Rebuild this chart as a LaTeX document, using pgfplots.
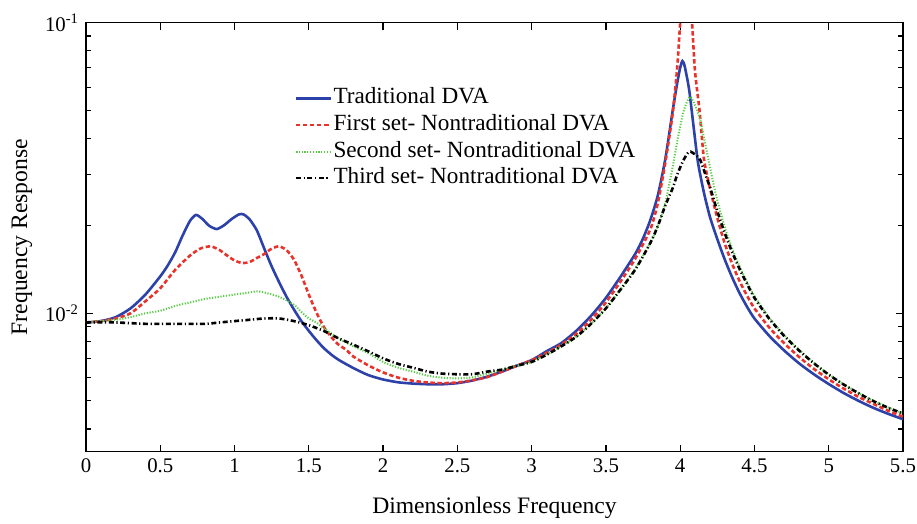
\documentclass[border=0pt]{standalone}
\usepackage{pgfplots}
\pgfplotsset{compat=1.18}
\usepackage{fontspec}
\setmainfont{Liberation Serif}
\definecolor{cblue}{RGB}{44,66,170}
\definecolor{cred}{RGB}{232,50,42}
\definecolor{cgreen}{RGB}{90,205,70}
\begin{document}
\begin{tikzpicture}
\useasboundingbox (-43pt,-36.15pt) rectangle (415.5pt,225.85pt);
\begin{axis}[
  at={(0,0)}, anchor=south west,
  scale only axis, width=408.5pt, height=214.5pt,
  ymode=log,
  xmin=0, xmax=5.5, ymin=0.00334, ymax=0.1,
  xtick={0,0.5,...,5.5},
  xticklabels={0,0.5,1,1.5,2,2.5,3,3.5,4,4.5,5,5.5},
  ytick={0.01,0.1},
  yticklabels={10\textsuperscript{-2},10\textsuperscript{-1}},
  minor ytick={0.004,0.005,0.006,0.007,0.008,0.009,0.02,0.03,0.04,0.05,0.06,0.07,0.08,0.09},
  tick align=inside,
  tick pos=both,
  major tick length=3.5pt, minor tick length=2.5pt,
  every tick/.style={black, line width=0.6pt},
  axis line style={line width=0.7pt},
  ticklabel style={font=\fontsize{10.4}{12}\selectfont},
  /pgf/number format/assume math mode=true,
  xlabel={Dimensionless Frequency},
  ylabel={Frequency Response},
  label style={font=\fontsize{11.8}{14}\selectfont},
  xlabel style={at={(axis description cs:0.5,-0.1315)}, anchor=center},
  ylabel style={at={(axis description cs:-0.0783,0.5)}, anchor=center},
  legend cell align=left,
  legend style={draw=none, fill=none, font=\fontsize{11.6}{13}\selectfont,
    at={(axis description cs:0.2477,0.863)}, anchor=north west,
    nodes={inner sep=1pt, text height=8pt, text depth=2.5pt}, row sep=0.8pt},
  clip=true,
]
\addplot[cblue, line width=1.3pt, smooth, tension=0.4] table {
0.0 0.0093
0.1 0.0094
0.2 0.0097
0.3 0.0104
0.4 0.0116
0.5 0.0134
0.55 0.0146
0.6 0.0162
0.65 0.0185
0.7 0.0208
0.74 0.0218
0.78 0.0212
0.83 0.0200
0.88 0.0195
0.93 0.0201
0.98 0.0211
1.03 0.0219
1.06 0.0219
1.1 0.0211
1.15 0.0193
1.2 0.0167
1.25 0.0145
1.3 0.0128
1.35 0.0114
1.4 0.0103
1.45 0.0094
1.5 0.0087
1.55 0.0081
1.6 0.0076
1.65 0.00722
1.7 0.00692
1.8 0.00648
1.9 0.00613
2.0 0.00592
2.1 0.00579
2.2 0.00573
2.3 0.00570
2.4 0.00570
2.5 0.00575
2.6 0.00587
2.7 0.00605
2.8 0.0063
2.9 0.0066
3.0 0.0069
3.1 0.0074
3.2 0.0079
3.3 0.0087
3.4 0.0098
3.5 0.0113
3.6 0.0134
3.7 0.0161
3.75 0.0181
3.8 0.0210
3.85 0.0255
3.9 0.034
3.95 0.050
3.98 0.062
4.0 0.070
4.015 0.0738
4.03 0.071
4.06 0.059
4.09 0.044
4.12 0.033
4.16 0.026
4.2 0.0215
4.25 0.0180
4.3 0.01532
4.35 0.01329
4.4 0.01173
4.45 0.01053
4.5 0.00960
4.6 0.00836
4.7 0.00745
4.8 0.00673
4.9 0.00617
5.0 0.00571
5.1 0.00532
5.2 0.00500
5.3 0.00473
5.4 0.00451
5.5 0.00432
};
\addlegendentry{Traditional DVA}
\addplot[cred, line width=1.3pt, dash pattern=on 2.2pt off 1.3pt, smooth, tension=0.4] table {
0.0 0.0093
0.1 0.0094
0.2 0.0096
0.3 0.0100
0.4 0.0110
0.5 0.0122
0.6 0.0141
0.7 0.0158
0.77 0.0167
0.84 0.0170
0.9 0.0165
0.95 0.0158
1.0 0.0152
1.05 0.0149
1.1 0.0150
1.15 0.0155
1.2 0.0160
1.25 0.0167
1.3 0.0170
1.35 0.0165
1.4 0.0153
1.45 0.0135
1.5 0.0116
1.55 0.0101
1.6 0.0090
1.65 0.0083
1.7 0.0078
1.75 0.0075
1.8 0.0071
1.9 0.00662
2.0 0.00626
2.1 0.00601
2.2 0.00586
2.3 0.00578
2.4 0.00575
2.5 0.00578
2.6 0.00588
2.7 0.00603
2.8 0.0063
2.9 0.0066
3.0 0.0069
3.1 0.0073
3.2 0.0078
3.3 0.0085
3.4 0.0095
3.5 0.0109
3.6 0.0129
3.7 0.0155
3.8 0.0195
3.85 0.024
3.9 0.033
3.95 0.049
3.98 0.070
4.0 0.10
4.02 0.14
4.04 0.16
4.06 0.14
4.08 0.10
4.1 0.068
4.13 0.050
4.16 0.034
4.2 0.027
4.25 0.0213
4.3 0.0174
4.35 0.0148
4.4 0.0129
4.45 0.0115
4.5 0.0104
4.6 0.00893
4.7 0.00789
4.8 0.00708
4.9 0.00644
5.0 0.00593
5.1 0.00551
5.2 0.00516
5.3 0.00488
5.4 0.00462
5.5 0.00441
};
\addlegendentry{First set- Nontraditional DVA}
\addplot[cgreen, line width=1pt, dash pattern=on 0.6pt off 0.8pt, smooth, tension=0.4] table {
0.0 0.0093
0.1 0.0094
0.2 0.0095
0.3 0.0097
0.4 0.0100
0.5 0.0102
0.6 0.0106
0.7 0.0109
0.8 0.0112
0.9 0.0114
1.0 0.0116
1.1 0.0118
1.15 0.0119
1.2 0.0118
1.3 0.0114
1.4 0.0107
1.45 0.0101
1.5 0.0096
1.55 0.0093
1.6 0.0089
1.7 0.0082
1.8 0.0077
1.9 0.0073
2.0 0.0068
2.1 0.0065
2.2 0.0063
2.3 0.0061
2.4 0.00600
2.5 0.00597
2.6 0.00602
2.7 0.0062
2.8 0.0064
2.9 0.0066
3.0 0.0068
3.1 0.0072
3.2 0.0077
3.3 0.0083
3.4 0.0092
3.5 0.0104
3.6 0.0121
3.7 0.0143
3.8 0.0175
3.85 0.020
3.9 0.0240
3.95 0.032
3.98 0.039
4.02 0.049
4.05 0.054
4.07 0.0556
4.1 0.052
4.135 0.0463
4.17 0.038
4.22 0.0285
4.25 0.0245
4.3 0.0198
4.35 0.0167
4.4 0.0145
4.45 0.0128
4.5 0.01147
4.6 0.00965
4.7 0.00842
4.8 0.00749
4.9 0.00676
5.0 0.00617
5.1 0.00570
5.2 0.00532
5.3 0.00500
5.4 0.00474
5.5 0.00453
};
\addlegendentry{Second set- Nontraditional DVA}
\addplot[black, line width=1.3pt, dash pattern=on 2.5pt off 1.3pt on 0.6pt off 1.3pt, smooth, tension=0.4] table {
0.0 0.0093
0.2 0.0093
0.4 0.0092
0.6 0.0092
0.8 0.0092
0.9 0.0093
1.0 0.0094
1.1 0.0095
1.2 0.0096
1.3 0.0096
1.4 0.0094
1.5 0.0091
1.6 0.0087
1.7 0.0082
1.8 0.0078
1.9 0.0074
2.0 0.0070
2.1 0.0067
2.2 0.0065
2.3 0.0063
2.4 0.0062
2.5 0.00617
2.6 0.00617
2.7 0.0063
2.8 0.0064
2.9 0.0066
3.0 0.0068
3.1 0.0072
3.2 0.0077
3.3 0.0083
3.4 0.0092
3.5 0.0104
3.6 0.0121
3.7 0.0142
3.8 0.0175
3.85 0.0200
3.9 0.0235
3.95 0.027
3.98 0.030
4.02 0.0335
4.05 0.0355
4.07 0.0360
4.1 0.0352
4.135 0.0337
4.18 0.029
4.2 0.0273
4.25 0.02245
4.3 0.01889
4.35 0.01623
4.4 0.01420
4.45 0.01263
4.5 0.01130
4.6 0.00957
4.7 0.00836
4.8 0.00745
4.9 0.00673
5.0 0.00615
5.1 0.00569
5.2 0.00531
5.3 0.00499
5.4 0.00473
5.5 0.00452
};
\addlegendentry{Third set- Nontraditional DVA}
\end{axis}
\end{tikzpicture}
\end{document}
